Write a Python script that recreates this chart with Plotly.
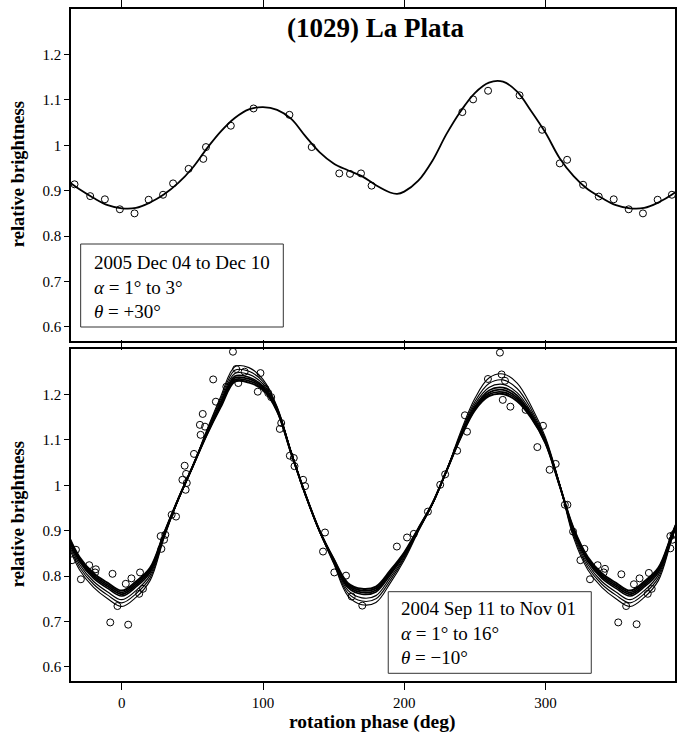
import plotly.graph_objects as go

# ---------------- data ----------------
TITLE = "(1029) La Plata"
X_TICKS = [0, 100, 200, 300]
X_TICK_TEXT = ["0", "100", "200", "300"]
Y_TICKS = [0.6, 0.7, 0.8, 0.9, 1.0, 1.1, 1.2]
Y_TICK_TEXT = ["0.6", "0.7", "0.8", "0.9", "1", "1.1", "1.2"]

# 2005 Dec apparition: observed relative brightness vs rotation phase
obs_2005_phase = [-33.5, -22.4, -12.0, -1.4, 9.0, 19.0, 29.2, 36.3, 47.3, 57.7, 59.6,
                  77.2, 93.3, 118.7, 134.5, 154.0, 161.6, 169.4, 176.9, 241.2, 248.8,
                  259.4, 281.7, 297.7, 310.2, 315.4, 326.7, 337.8, 348.4, 359.0, 369.1,
                  379.5, 389.6]
obs_2005_flux = [0.914, 0.888, 0.881, 0.859, 0.850, 0.880, 0.891, 0.916, 0.948, 0.970, 0.996,
                 1.043, 1.081, 1.067, 0.996, 0.938, 0.937, 0.938, 0.911, 1.073, 1.101,
                 1.120, 1.110, 1.034, 0.960, 0.968, 0.913, 0.887, 0.881, 0.859, 0.850,
                 0.880, 0.891]

# 2005 model lightcurve
model_2005_phase = [-40, -30, -20, -10, 0, 10, 20, 30, 40, 50, 60, 70, 80, 90, 100, 110, 120,
                    130, 140, 150, 160, 170, 180, 190, 195, 200, 210, 220, 230, 240, 250, 260,
                    270, 280, 290, 300, 310, 320, 330, 340, 350, 360, 370, 380, 390, 400]
model_2005_flux = [0.925, 0.903, 0.884, 0.868, 0.861, 0.862, 0.874, 0.892, 0.917, 0.950, 0.992,
                   1.030, 1.060, 1.079, 1.084, 1.078, 1.058, 1.020, 0.985, 0.960, 0.945, 0.932,
                   0.912, 0.896, 0.893, 0.898, 0.922, 0.966, 1.025, 1.075, 1.115, 1.138, 1.140,
                   1.118, 1.075, 1.028, 0.972, 0.932, 0.903, 0.884, 0.868, 0.861, 0.862, 0.874,
                   0.892, 0.917]

# 2004 Sep-Nov apparition: observed relative brightness vs rotation phase
obs_2004_phase = [-35.2, -32.5, -29.0, -23.1, -18.4, -18.9, -8.2, -6.6, -3.1, 2.8, 4.5, 6.8,
                  12.3, 12.9, 15.0, 28.0, 27.5, 29.9, 30.8, 35.3, 38.4, 42.9, 44.5, 45.2,
                  45.5, 46.0, 51.1, 55.3, 55.8, 57.3, 58.9, 64.7, 66.6, 74.0, 78.7, 81.0,
                  82.5, 87.0, 96.3, 98.2, 101.8, 103.7, 105.8, 111.9, 112.9, 119.0, 121.8,
                  122.3, 128.4, 129.8, 142.5, 143.9, 150.5, 158.8, 162.8, 170.3, 194.8,
                  202.0, 206.8, 216.8, 225.5, 229.0, 237.5, 243.0, 244.5, 259.3, 267.8,
                  269.0, 271.4, 269.8, 275.2, 286.0, 294.3, 298.3, 303.0, 307.3, 313.8,
                  315.6, 319.6, 324.8, 327.6, 331.6, 337.0, 342.2, 341.3, 351.6, 353.8,
                  357.2, 362.7, 364.6, 366.7, 372.5, 373.3, 375.3, 388.5, 388.5, 390.0,
                  390.8]
obs_2004_flux = [0.835, 0.858, 0.793, 0.824, 0.815, 0.808, 0.698, 0.805, 0.734, 0.783, 0.693,
                 0.795, 0.761, 0.808, 0.772, 0.860, 0.888, 0.880, 0.891, 0.935, 0.931, 1.012,
                 1.043, 0.990, 1.025, 1.005, 1.069, 1.133, 1.111, 1.157, 1.129, 1.233, 1.184,
                 1.217, 1.294, 1.256, 1.225, 1.250, 1.206, 1.247, 1.212, 1.203, 1.194, 1.124,
                 1.137, 1.065, 1.060, 1.042, 1.012, 0.998, 0.854, 0.896, 0.808, 0.801, 0.755,
                 0.735, 0.865, 0.885, 0.893, 0.942, 1.001, 1.024, 1.076, 1.154, 1.118, 1.234,
                 1.292, 1.244, 1.230, 1.188, 1.173, 1.166, 1.084, 1.131, 1.034, 1.047, 0.957,
                 0.957, 0.898, 0.835, 0.860, 0.793, 0.824, 0.816, 0.808, 0.698, 0.804, 0.734,
                 0.782, 0.694, 0.795, 0.761, 0.807, 0.772, 0.861, 0.888, 0.880, 0.891]

# 2004 model lightcurves (one per observing night)
model_2004_phase = [-40, -30, -20, -10, 0, 10, 20, 30, 40, 50, 60, 70, 80, 90, 100, 110, 120,
                    130, 140, 150, 160, 170, 180, 190, 200, 210, 220, 230, 240, 250, 260, 270,
                    280, 290, 300, 310, 320, 330, 340, 350, 360, 370, 380, 390, 400]
model_2004_n1 = [0.905, 0.842, 0.806, 0.785, 0.768, 0.788, 0.818, 0.895, 0.970, 1.040, 1.110,
                 1.172, 1.228, 1.226, 1.210, 1.163, 1.070, 0.980, 0.900, 0.838, 0.785, 0.772,
                 0.777, 0.812, 0.852, 0.905, 0.960, 1.032, 1.105, 1.165, 1.196, 1.201, 1.185,
                 1.148, 1.093, 1.000, 0.905, 0.842, 0.806, 0.785, 0.768, 0.788, 0.818, 0.895,
                 0.970]
model_2004_n2 = [0.903, 0.839, 0.802, 0.781, 0.764, 0.784, 0.815, 0.894, 0.970, 1.040, 1.111,
                 1.175, 1.232, 1.230, 1.213, 1.164, 1.070, 0.980, 0.900, 0.837, 0.782, 0.768,
                 0.773, 0.809, 0.850, 0.904, 0.960, 1.032, 1.106, 1.167, 1.200, 1.205, 1.189,
                 1.150, 1.094, 1.000, 0.903, 0.839, 0.802, 0.781, 0.764, 0.784, 0.815, 0.894,
                 0.970]
model_2004_n3 = [0.900, 0.836, 0.799, 0.777, 0.760, 0.780, 0.812, 0.893, 0.970, 1.040, 1.112,
                 1.178, 1.236, 1.234, 1.216, 1.165, 1.071, 0.980, 0.900, 0.836, 0.779, 0.764,
                 0.769, 0.806, 0.848, 0.903, 0.960, 1.032, 1.108, 1.170, 1.204, 1.210, 1.193,
                 1.153, 1.096, 1.001, 0.900, 0.836, 0.799, 0.777, 0.760, 0.780, 0.812, 0.893,
                 0.970]
model_2004_n4 = [0.898, 0.832, 0.795, 0.773, 0.756, 0.776, 0.808, 0.891, 0.969, 1.040, 1.114,
                 1.180, 1.240, 1.238, 1.218, 1.167, 1.071, 0.980, 0.899, 0.834, 0.775, 0.760,
                 0.765, 0.802, 0.846, 0.903, 0.959, 1.032, 1.109, 1.173, 1.209, 1.215, 1.198,
                 1.156, 1.097, 1.001, 0.898, 0.832, 0.795, 0.773, 0.756, 0.776, 0.808, 0.891,
                 0.969]
model_2004_n5 = [0.893, 0.826, 0.788, 0.765, 0.748, 0.768, 0.802, 0.889, 0.969, 1.040, 1.115,
                 1.185, 1.246, 1.244, 1.223, 1.168, 1.072, 0.980, 0.899, 0.832, 0.769, 0.752,
                 0.757, 0.796, 0.842, 0.901, 0.959, 1.032, 1.111, 1.178, 1.215, 1.222, 1.204,
                 1.161, 1.099, 1.002, 0.893, 0.826, 0.788, 0.765, 0.748, 0.768, 0.802, 0.889,
                 0.969]
model_2004_n6 = [0.889, 0.820, 0.782, 0.758, 0.741, 0.761, 0.796, 0.887, 0.969, 1.040, 1.118,
                 1.190, 1.253, 1.251, 1.228, 1.171, 1.073, 0.980, 0.899, 0.830, 0.763, 0.745,
                 0.750, 0.790, 0.839, 0.900, 0.959, 1.032, 1.114, 1.184, 1.224, 1.232, 1.213,
                 1.167, 1.102, 1.003, 0.889, 0.820, 0.782, 0.758, 0.741, 0.761, 0.796, 0.887,
                 0.969]
model_2004_n7 = [0.884, 0.814, 0.775, 0.750, 0.733, 0.753, 0.790, 0.885, 0.968, 1.040, 1.120,
                 1.195, 1.261, 1.259, 1.233, 1.173, 1.073, 0.980, 0.898, 0.828, 0.757, 0.737,
                 0.742, 0.784, 0.835, 0.898, 0.958, 1.032, 1.118, 1.191, 1.236, 1.245, 1.225,
                 1.174, 1.106, 1.004, 0.884, 0.814, 0.775, 0.750, 0.733, 0.753, 0.790, 0.885,
                 0.968]

# ---------------- figure ----------------
SERIF = "Liberation Serif, Times New Roman, serif"
W, H = 677, 737
ML, MR, MT, MB = 71, 0, 9, 56
PH = H - MT - MB            # plotting height in px
PW = W - ML - MR


def px_x(px):
    return (px - ML) / PW


def px_y(py):
    return (H - MB - py) / PH


fig = go.Figure()

# top panel (2005)
fig.add_trace(go.Scatter(x=model_2005_phase, y=model_2005_flux, mode="lines",
                         line=dict(color="black", width=1.8, shape="spline", smoothing=1.0),
                         xaxis="x2", yaxis="y2", showlegend=False, hoverinfo="skip"))
fig.add_trace(go.Scatter(x=obs_2005_phase, y=obs_2005_flux, mode="markers",
                         marker=dict(symbol="circle-open", size=7, color="black",
                                     line=dict(width=1, color="black")),
                         xaxis="x2", yaxis="y2", showlegend=False))

# bottom panel (2004)
models_2004 = [model_2004_n1, model_2004_n2, model_2004_n3, model_2004_n4,
               model_2004_n5, model_2004_n6, model_2004_n7]
widths = [2.0, 1.8, 1.8, 1.6, 1.2, 1.1, 1.1]
for vals, w in zip(models_2004, widths):
    fig.add_trace(go.Scatter(x=model_2004_phase, y=vals, mode="lines",
                             line=dict(color="black", width=w, shape="spline", smoothing=1.0),
                             xaxis="x", yaxis="y", showlegend=False, hoverinfo="skip"))
fig.add_trace(go.Scatter(x=obs_2004_phase, y=obs_2004_flux, mode="markers",
                         marker=dict(symbol="circle-open", size=7, color="black",
                                     line=dict(width=1, color="black")),
                         xaxis="x", yaxis="y", showlegend=False))

gap = 8
bottom_top = (PH - gap) / 2 / PH
top_bottom = (PH + gap) / 2 / PH

x_common = dict(range=[-36, 391.8], tickvals=X_TICKS, ticktext=X_TICK_TEXT,
                ticks="outside", ticklen=7, tickwidth=1.3, tickcolor="black",
                showline=True, linecolor="black", linewidth=1.5, mirror="ticks",
                showgrid=False, zeroline=False,
                tickfont=dict(family=SERIF, size=15, color="black"))
y_common = dict(range=[0.569, 1.300], tickvals=Y_TICKS, ticktext=Y_TICK_TEXT,
                ticks="outside", ticklen=5, tickwidth=1.3, tickcolor="black",
                showline=True, linecolor="black", linewidth=1.5, mirror=True,
                showgrid=False, zeroline=False,
                tickfont=dict(family=SERIF, size=15, color="black"))

fig.update_layout(
    width=W, height=H,
    margin=dict(l=ML, r=MR, t=MT, b=MB),
    paper_bgcolor="white", plot_bgcolor="white",
    xaxis=dict(domain=[0, 1], anchor="y", **x_common),
    xaxis2=dict(domain=[0, 1], anchor="y2", showticklabels=False, **x_common),
    yaxis=dict(domain=[0, bottom_top], anchor="x", **y_common),
    yaxis2=dict(domain=[top_bottom, 1], anchor="x2", **y_common),
)

annotations = [
    dict(text="<b>" + TITLE + "</b>", x=px_x(377), y=px_y(28), xref="paper", yref="paper",
         xanchor="center", yanchor="middle", showarrow=False,
         font=dict(family=SERIF, size=27, color="black")),
    dict(text="<b>rotation phase (deg)</b>", x=px_x(373), y=px_y(722), xref="paper",
         yref="paper", xanchor="center", yanchor="middle", showarrow=False,
         font=dict(family=SERIF, size=19.5, color="black")),
    dict(text="<b>relative brightness</b>", x=px_x(18), y=px_y(174), xref="paper",
         yref="paper", xanchor="center", yanchor="middle", textangle=-90, showarrow=False,
         font=dict(family=SERIF, size=18.5, color="black")),
    dict(text="<b>relative brightness</b>", x=px_x(18), y=px_y(514), xref="paper",
         yref="paper", xanchor="center", yanchor="middle", textangle=-90, showarrow=False,
         font=dict(family=SERIF, size=18.5, color="black")),
    dict(text="2005 Dec 04 to Dec 10<br><i>α</i> = 1° to 3°<br><i>θ</i> = +30°",
         x=px_x(92), y=px_y(287), xref="paper", yref="paper", xanchor="left",
         yanchor="middle", align="left", showarrow=False,
         font=dict(family=SERIF, size=19, color="black")),
    dict(text="2004 Sep 11 to Nov 01<br><i>α</i> = 1° to 16°<br><i>θ</i> = −10°",
         x=px_x(400), y=px_y(633), xref="paper", yref="paper", xanchor="left",
         yanchor="middle", align="left", showarrow=False,
         font=dict(family=SERIF, size=19, color="black")),
]
fig.update_layout(annotations=annotations)

# boxes around the observing-run notes
box_line = dict(color="#333333", width=1)
fig.add_shape(type="rect", xref="paper", yref="paper",
              x0=px_x(80.7), x1=px_x(284), y0=px_y(327), y1=px_y(244),
              line=box_line, fillcolor="white", layer="below")
fig.add_shape(type="rect", xref="paper", yref="paper",
              x0=px_x(389.3), x1=px_x(593), y0=px_y(673.3), y1=px_y(591.7),
              line=box_line, fillcolor="rgba(0,0,0,0)", layer="above")

fig.write_html("out.html")
